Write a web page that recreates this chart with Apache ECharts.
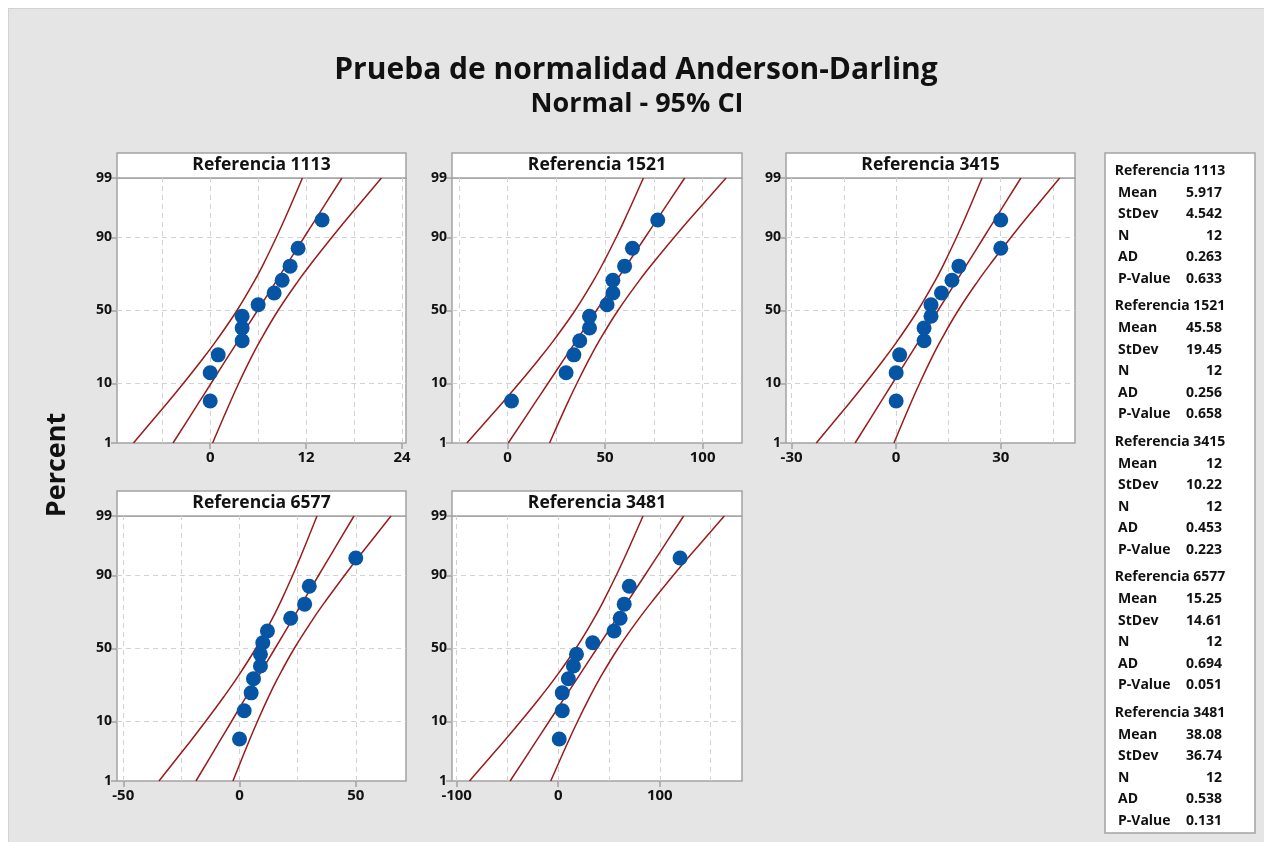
<!DOCTYPE html>
<html>
<head>
<meta charset="utf-8">
<script src="https://cdn.jsdelivr.net/npm/echarts@6/dist/echarts.min.js"></script>
<style>
html,body{margin:0;padding:0;background:#fff;}
#bg{position:absolute;left:8px;top:8px;width:1255px;height:833px;background:#e5e5e5;border:1px solid #d2d2d2;}
#chart{position:absolute;left:0;top:0;width:1264px;height:842px;}
</style>
</head>
<body>
<div id="bg"></div>
<div id="chart"></div>
<script>
// ---------------- DATA ----------------
const panelNames = ['Referencia 1113', 'Referencia 1521', 'Referencia 3415', 'Referencia 6577', 'Referencia 3481'];
// plotting positions (percent) of the 12 ordered observations
const plotPercents = [5.6, 13.7, 21.8, 29.8, 37.9, 46.0, 54.0, 62.1, 70.2, 78.2, 86.3, 94.4];
const ref1113 = [0, 0, 1, 4, 4, 4, 6, 8, 9, 10, 11, 14];
const ref1521 = [2, 30, 34, 37, 42, 42, 51, 54, 54, 60, 64, 77];
const ref3415 = [0, 0, 1, 8, 8, 10, 10, 13, 16, 18, 30, 30];
const ref6577 = [0, 2, 5, 6, 9, 9, 10, 12, 22, 28, 30, 50];
const ref3481 = [1, 4, 4, 10, 15, 18, 34, 55, 61, 65, 70, 120];

// fitted line and 95% CI curves read at these percent levels
const curvePercents = [1, 5, 10, 20, 30, 50, 70, 80, 90, 95, 99];
const fit1113 = [-4.65, -1.55, 0.10, 2.09, 3.54, 5.92, 8.30, 9.74, 11.74, 13.39, 16.48];
const lo1113  = [-9.60, -5.50, -3.37, -0.90, 0.79, 3.35, 5.56, 6.75, 8.27, 9.45, 11.54];
const hi1113  = [0.30, 2.39, 3.56, 5.08, 6.28, 8.49, 11.04, 12.73, 15.21, 17.33, 21.43];
const fit1521 = [0.33, 13.59, 20.65, 29.21, 35.38, 45.58, 55.78, 61.95, 70.51, 77.57, 90.83];
const lo1521  = [-20.85, -3.29, 5.80, 16.41, 23.64, 34.58, 44.04, 49.14, 55.66, 60.69, 69.64];
const hi1521  = [21.52, 30.47, 35.51, 42.02, 47.12, 56.59, 67.52, 74.76, 85.36, 94.45, 112.01];
const fit3415 = [-11.78, -4.81, -1.10, 3.40, 6.64, 12.00, 17.36, 20.60, 25.10, 28.81, 35.78];
const lo3415  = [-22.91, -13.68, -8.90, -3.33, 0.47, 6.22, 11.19, 13.87, 17.29, 19.94, 24.64];
const hi3415  = [-0.64, 4.06, 6.71, 10.13, 12.81, 17.78, 23.53, 27.33, 32.90, 37.68, 46.91];
const fit6577 = [-18.74, -8.78, -3.47, 2.95, 7.59, 15.25, 22.91, 27.55, 33.97, 39.28, 49.24];
const lo6577  = [-34.65, -21.46, -14.63, -6.67, -1.23, 6.98, 14.10, 17.93, 22.82, 26.60, 33.32];
const hi6577  = [-2.82, 3.90, 7.68, 12.57, 16.41, 23.52, 31.73, 37.17, 45.13, 51.96, 65.15];
const fit3481 = [-47.39, -22.35, -9.01, 7.16, 18.81, 38.08, 57.35, 69.00, 85.17, 98.51, 123.55];
const lo3481  = [-87.41, -54.24, -37.06, -17.03, -3.36, 17.29, 35.18, 44.81, 57.11, 66.63, 83.53];
const hi3481  = [-7.37, 9.53, 19.05, 31.35, 40.98, 58.87, 79.52, 93.19, 113.22, 130.40, 163.57];

// axis ticks
const yTicks = [1, 10, 50, 90, 99];
const yGrid = [10, 50, 90];
const xTicks1113 = [0, 12, 24];      const xGrid1113 = [-6, 0, 6, 12, 18, 24];
const xTicks1521 = [0, 50, 100];     const xGrid1521 = [-25, 0, 25, 50, 75, 100];
const xTicks3415 = [-30, 0, 30];     const xGrid3415 = [-30, -15, 0, 15, 30, 45];
const xTicks6577 = [-50, 0, 50];     const xGrid6577 = [-50, -25, 0, 25, 50];
const xTicks3481 = [-100, 0, 100];   const xGrid3481 = [-100, -50, 0, 50, 100, 150];

// summary statistics
const statMean  = [5.917, 45.58, 12, 15.25, 38.08];
const statStDev = [4.542, 19.45, 10.22, 14.61, 36.74];
const statN     = [12, 12, 12, 12, 12];
const statAD    = [0.263, 0.256, 0.453, 0.694, 0.538];
const statP     = [0.633, 0.658, 0.223, 0.051, 0.131];

// ---------------- probability (normal) scale ----------------
function probit(p) {
  const a = [-3.969683028665376e+01, 2.209460984245205e+02, -2.759285104469687e+02, 1.383577518672690e+02, -3.066479806614716e+01, 2.506628277459239e+00];
  const b = [-5.447609879822406e+01, 1.615858368580409e+02, -1.556989798598866e+02, 6.680131188771972e+01, -1.328068155288572e+01];
  const c = [-7.784894002430293e-03, -3.223964580411365e-01, -2.400758277161838e+00, -2.549671324505935e+00, 4.374664141464968e+00, 2.938163982698783e+00];
  const d = [7.784695709041462e-03, 3.224671290700398e-01, 2.445134137142996e+00, 3.754408661907416e+00];
  const pl = 0.02425, ph = 1 - pl;
  let q, r;
  if (p < pl) {
    q = Math.sqrt(-2 * Math.log(p));
    return (((((c[0]*q+c[1])*q+c[2])*q+c[3])*q+c[4])*q+c[5]) / ((((d[0]*q+d[1])*q+d[2])*q+d[3])*q+1);
  } else if (p <= ph) {
    q = p - 0.5; r = q*q;
    return (((((a[0]*r+a[1])*r+a[2])*r+a[3])*r+a[4])*r+a[5])*q / (((((b[0]*r+b[1])*r+b[2])*r+b[3])*r+b[4])*r+1);
  } else {
    q = Math.sqrt(-2 * Math.log(1 - p));
    return -(((((c[0]*q+c[1])*q+c[2])*q+c[3])*q+c[4])*q+c[5]) / ((((d[0]*q+d[1])*q+d[2])*q+d[3])*q+1);
  }
}
const toZ = pct => probit(pct / 100);
const pairs = (xs, ps) => xs.map((x, k) => [x, toZ(ps[k])]);

// ---------------- layout ----------------
const FONT = "'Open Sans', 'Noto Sans', sans-serif";
const TXT = '#111';
const FRAME = '#a3a3a3';
const panels = [
  { left: 117, top: 178, width: 289, height: 265, min: -11.66, max: 24.5,  obs: ref1113, fit: fit1113, lo: lo1113, hi: hi1113, ticks: xTicks1113, grid: xGrid1113 },
  { left: 452, top: 178, width: 290, height: 265, min: -28.5,  max: 120.2, obs: ref1521, fit: fit1521, lo: lo1521, hi: hi1521, ticks: xTicks1521, grid: xGrid1521 },
  { left: 786, top: 178, width: 289, height: 265, min: -31.6,  max: 51.3,  obs: ref3415, fit: fit3415, lo: lo3415, hi: hi3415, ticks: xTicks3415, grid: xGrid3415 },
  { left: 117, top: 516, width: 289, height: 265, min: -52.7,  max: 71.6,  obs: ref6577, fit: fit6577, lo: lo6577, hi: hi6577, ticks: xTicks6577, grid: xGrid6577 },
  { left: 452, top: 516, width: 290, height: 265, min: -104.6, max: 181,   obs: ref3481, fit: fit3481, lo: lo3481, hi: hi3481, ticks: xTicks3481, grid: xGrid3481 }
];

const zMin = toZ(yTicks[0]), zMax = toZ(yTicks[yTicks.length - 1]);
const yTickZ = yTicks.map(toZ);
function yLabel(v) {
  let best = 0;
  for (let k = 1; k < yTickZ.length; k++) if (Math.abs(yTickZ[k] - v) < Math.abs(yTickZ[best] - v)) best = k;
  return String(yTicks[best]);
}

const grids = [], xAxes = [], yAxes = [], series = [], graphics = [];
panels.forEach((p, i) => {
  grids.push({ left: p.left, top: p.top, width: p.width, height: p.height, show: true,
    backgroundColor: '#fff', borderColor: FRAME, borderWidth: 1.5, containLabel: false });
  xAxes.push({ type: 'value', gridIndex: i, min: p.min, max: p.max,
    splitLine: { show: false }, axisLine: { show: false, onZero: false },
    axisTick: { show: true, customValues: p.ticks, length: 6, lineStyle: { color: FRAME, width: 1.5 } },
    axisLabel: { customValues: p.ticks, color: TXT, fontFamily: FONT, fontWeight: 'bold', fontSize: 15, margin: 7 } });
  yAxes.push({ type: 'value', gridIndex: i, min: zMin, max: zMax,
    splitLine: { show: false }, axisLine: { show: false, onZero: false },
    axisTick: { show: true, customValues: yTickZ, length: 6, lineStyle: { color: FRAME, width: 1.5 } },
    axisLabel: { customValues: yTickZ, formatter: yLabel, color: TXT, fontFamily: FONT, fontWeight: 'bold', fontSize: 14, margin: 5 } });
  // grid lines
  series.push({ type: 'line', xAxisIndex: i, yAxisIndex: i, data: [], silent: true, z: 1,
    markLine: { silent: true, z: 1, symbol: ['none', 'none'], label: { show: false }, animation: false,
      lineStyle: { type: [5, 4], color: '#d2d2d2', width: 1 },
      data: p.grid.map(v => ({ xAxis: v })).concat(yGrid.map(v => ({ yAxis: toZ(v) }))) } });
  // CI lower, fitted line, CI upper
  [p.lo, p.fit, p.hi].forEach(arr => {
    series.push({ type: 'line', xAxisIndex: i, yAxisIndex: i, data: pairs(arr, curvePercents),
      smooth: 0.4, showSymbol: false, silent: true, z: 3,
      lineStyle: { color: '#9a1b1b', width: 1.5 } });
  });
  // observations
  series.push({ type: 'scatter', xAxisIndex: i, yAxisIndex: i, data: pairs(p.obs, plotPercents),
    symbolSize: 15, itemStyle: { color: '#0655a4', opacity: 1 }, silent: true, z: 10 });
  // panel header strip
  graphics.push({ type: 'rect', shape: { x: p.left, y: p.top - 25, width: p.width, height: 25 },
    style: { fill: '#fff', stroke: FRAME, lineWidth: 1.5 } });
  graphics.push({ type: 'text', x: p.left + p.width / 2, y: p.top - 12.5,
    style: { text: panelNames[i], fill: TXT, font: 'bold 17.5px ' + FONT, textAlign: 'center', textVerticalAlign: 'middle' } });
});

// titles
graphics.push({ type: 'text', x: 636, y: 70, style: { text: 'Prueba de normalidad Anderson-Darling', fill: TXT,
  font: 'bold 30px ' + FONT, textAlign: 'center', textVerticalAlign: 'middle' } });
graphics.push({ type: 'text', x: 637, y: 104, style: { text: 'Normal - 95% CI', fill: TXT,
  font: 'bold 27px ' + FONT, textAlign: 'center', textVerticalAlign: 'middle' } });
// y axis title
graphics.push({ type: 'text', x: 57, y: 465, rotation: Math.PI / 2, style: { text: 'Percent', fill: TXT,
  font: 'bold 27px ' + FONT, textAlign: 'center', textVerticalAlign: 'middle' } });

// statistics box
graphics.push({ type: 'rect', shape: { x: 1105, y: 153, width: 150, height: 680 },
  style: { fill: '#fff', stroke: FRAME, lineWidth: 1.5 } });
const rowLabels = ['Mean', 'StDev', 'N', 'AD', 'P-Value'];
panelNames.forEach((name, k) => {
  const y0 = 171 + k * 135.5;
  graphics.push({ type: 'text', x: 1170, y: y0, style: { text: name, fill: TXT, font: 'bold 14px ' + FONT,
    textAlign: 'center', textVerticalAlign: 'middle' } });
  const vals = [statMean[k], statStDev[k], statN[k], statAD[k], statP[k]];
  rowLabels.forEach((lab, j) => {
    const y = y0 + (j + 1) * 21.6;
    graphics.push({ type: 'text', x: 1118, y: y, style: { text: lab, fill: TXT, font: 'bold 14px ' + FONT,
      textAlign: 'left', textVerticalAlign: 'middle' } });
    graphics.push({ type: 'text', x: 1222, y: y, style: { text: String(vals[j]), fill: TXT, font: 'bold 14px ' + FONT,
      textAlign: 'right', textVerticalAlign: 'middle' } });
  });
});

const chart = echarts.init(document.getElementById('chart'), null, { renderer: 'canvas' });
chart.setOption({
  backgroundColor: 'transparent',
  animation: false,
  grid: grids,
  xAxis: xAxes,
  yAxis: yAxes,
  series: series,
  graphic: { elements: graphics }
});
</script>
</body>
</html>
